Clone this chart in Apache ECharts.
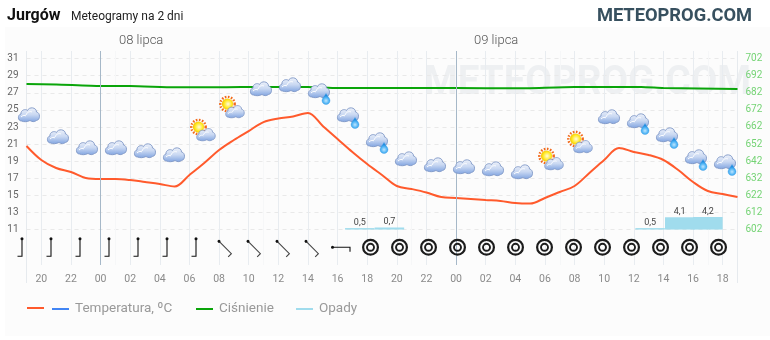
<!DOCTYPE html>
<html><head><meta charset="utf-8">
<style>html,body{margin:0;padding:0;background:#fff}#c{width:770px;height:340px}</style>
<script src="https://cdn.jsdelivr.net/npm/echarts@6/dist/echarts.min.js"></script>
</head><body><div id="c"></div>
<script>
const tickHours=[20,22,24,26,28,30,32,34,36,38,40,42,44,46,48,50,52,54,56,58,60,62,64,66];
const tempTicks=[11,13,15,17,19,21,23,25,27,29,31];
const pressTicks=[602,612,622,632,642,652,662,672,682,692,702];
const tempHours=[19,20,21,22,23,24,25,26,27,28,29,30,31,32,33,34,35,36,37,38,39,40,41,42,43,44,45,46,47,48,49,50,51,52,53,54,55,56,57,58,59,60,61,62,63,64,65,66,67];
const tempValues=[20.78,19.14,18.2,17.74,17.04,16.92,16.92,16.8,16.57,16.33,16.04,17.39,18.79,20.31,21.48,22.53,23.58,24.0,24.23,24.64,23.12,21.6,20.08,18.67,17.39,16.1,15.75,15.34,14.81,14.7,14.58,14.46,14.35,14.11,14.05,14.7,15.4,16.1,17.62,19.14,20.54,20.08,19.73,19.14,17.97,16.57,15.51,15.16,14.81];
const pressHours=[19,21,24,26,29,31.5,33.5,36,38,40,48,52,56,60.5,62,67];
const pressValues=[687.1,686.9,686,686,685.2,685.2,685.4,685.4,685.4,684.8,684.8,684.6,685.4,685.4,684.8,684.2];
const rainHours=[41.5,43.5,61.1,63.1,65];
const rainValues=[0.5,0.7,0.5,4.1,4.2];
const midnights=[24,48];
const iconSlots=[0,1,2,3,4,5,6,7,8,9,10,11,12,13,14,15,16,17,18,19,20,21,22,23,24];
const iconTemps=[24.52,21.95,20.66,20.66,20.31,19.84,22.53,25.22,27.56,28.03,27.33,24.52,21.6,19.37,18.67,18.44,18.2,17.85,19.14,21.13,24.29,23.82,22.18,19.61,19.02];
const iconKinds=['c','c','c','c','c','c','p','p','c','c','r','r','r','c','c','c','c','c','p','p','c','r','r','r','r'];
const windDirs=[0,0,0,0,0,0,0,315,315,315,315,270,null,null,null,null,null,null,null,null,null,null,null,null,null];
const windRow=[8.93];
const FONT='Roboto';

function cloud(x,y,s){
  return {type:'group',x:x,y:y,scaleX:s,scaleY:s,children:[
    {type:'path',shape:{pathData:'M-7.5,7 C-11.5,7 -11.5,0.5 -8,0 C-8.5,-4 -3.5,-5.5 -1.5,-3.5 C0,-7.5 7.5,-7 7.5,-2 C11.5,-1.5 11.5,6 7.5,6.5 C5.5,8 3,8 1,6.5 C-2,8 -5,8 -7.5,7 Z'},
     style:{fill:new echarts.graphic.LinearGradient(0,0,0,1,[{offset:0,color:'#eef2fa'},{offset:.5,color:'#c9d8f2'},{offset:1,color:'#7fa3e0'}]),stroke:'#7f97c6',lineWidth:.9}},
    {type:'path',shape:{pathData:'M-3,1 C-2,-2 1,-3 3,-2 M-8,3 C-6,1 -4,1 -3,2'},style:{fill:'none',stroke:'#ffffff',lineWidth:1}}
  ]};
}
function sun(x,y){
  return [{type:'circle',x:x,y:y,shape:{r:7.2},style:{fill:'none',stroke:'#f26a1b',lineWidth:2.4,lineDash:[1.6,1.5]}},
          {type:'circle',x:x,y:y,shape:{r:5.6},style:{fill:new echarts.graphic.RadialGradient(.55,.5,.6,[{offset:0,color:'#fffbe0'},{offset:.6,color:'#ffe81e'},{offset:1,color:'#f0b400'}])}}];
}
function drop(x,y){
  return {type:'path',x:x,y:y,shape:{pathData:'M0,-5.5 C1,-3 4,-1 4,1.5 C4,4 2,5.5 0,5.5 C-2,5.5 -4,4 -4,1.5 C-4,-1 -1,-3 0,-5.5 Z'},
    style:{fill:new echarts.graphic.RadialGradient(.5,.65,.6,[{offset:0,color:'#bfe6ff'},{offset:.6,color:'#4fb4f5'},{offset:1,color:'#1f8ce0'}]),stroke:'#3f9fe6',lineWidth:.4}};
}
function renderIcon(p,api){
  const c=api.coord([api.value(0),api.value(1)]),k=iconKinds[p.dataIndex],ch=[];
  if(k==='c') ch.push(cloud(c[0],c[1],1));
  if(k==='r'){ch.push(cloud(c[0],c[1],1));ch.push(drop(c[0]+7,c[1]+9));}
  if(k==='p'){sun(c[0]-4.5,c[1]-4).forEach(e=>ch.push(e));ch.push(cloud(c[0]+3,c[1]+3,.88));}
  return {type:'group',children:ch};
}
function renderWind(p,api){
  const c=api.coord([api.value(0),api.value(1)]),cx=c[0]-7,cy=c[1],d=windDirs[p.dataIndex];
  if(d===null){
    return {type:'group',children:[
      {type:'circle',shape:{cx:cx+.5,cy:cy,r:7.4},style:{fill:'none',stroke:'#1c1c1c',lineWidth:2.2}},
      {type:'circle',shape:{cx:cx+.5,cy:cy,r:3.5},style:{fill:'none',stroke:'#1c1c1c',lineWidth:1.9}}]};
  }
  return {type:'group',x:cx,y:cy,rotation:-d*Math.PI/180,children:[
    {type:'polyline',shape:{points:[[0,-9],[0,9],[-4.5,9]]},style:{fill:'none',stroke:d===0||d===270?'#111':'#444',lineWidth:1.1}},
    {type:'circle',shape:{cx:0,cy:-8.5,r:1.5},style:{fill:'#111'}}]};
}
const iconData=iconSlots.map((s,i)=>[s,iconTemps[i]]);
const windData=iconSlots.map(s=>[s,windRow[0]]);
const mid=midnights.map(h=>({xAxis:h}));

const chart=echarts.init(document.getElementById('c'),null,{renderer:'canvas'});
chart.setOption({
  animation:false,backgroundColor:'#fff',
  textStyle:{fontFamily:FONT},
  title:[
    {text:'Jurgów',left:7,top:8,padding:0,textStyle:{fontFamily:FONT,fontSize:16,fontWeight:'bold',color:'#111'}},
    {text:'Meteogramy na 2 dni',left:71,top:11,padding:0,textStyle:{fontFamily:FONT,fontSize:12,fontWeight:'normal',color:'#222'}},
    {text:'METEOPROG.COM',right:18,top:7,padding:0,textStyle:{fontFamily:FONT,fontSize:18.3,fontWeight:'bold',color:'#37505f'}},
    {text:'08 lipca',left:119,top:34,padding:0,textStyle:{fontFamily:FONT,fontSize:13,fontWeight:300,color:'#555'}},
    {text:'09 lipca',left:474,top:34,padding:0,textStyle:{fontFamily:FONT,fontSize:13,fontWeight:300,color:'#555'}}
  ],
  graphic:[
    {type:'rect',z:-20,shape:{x:5,y:27,width:765,height:309},style:{fill:'#fcfcfc'}},
    {type:'text',z:-10,x:424,y:63,scaleX:.94,style:{text:'METEOPROG.COM',font:'bold 41px Roboto',fill:'#eef0f2'}},
    {type:'line',z:-9,shape:{x1:26.5,y1:51,x2:26.5,y2:283},style:{stroke:'#e6eaee',lineWidth:1}},
    {type:'line',z:-9,shape:{x1:737.5,y1:51,x2:737.5,y2:283},style:{stroke:'#e6eaee',lineWidth:1}}
  ],
  grid:{left:26.5,right:32.5,top:51,bottom:75,containLabel:false},
  xAxis:[
    {type:'value',min:19,max:67,
     axisLine:{show:false},
     axisTick:{show:false,customValues:tickHours},
     axisLabel:{customValues:tickHours,margin:8.5,fontFamily:FONT,fontSize:10.5,color:'#8a8a8a',
       formatter:v=>String(v%24).padStart(2,'0')},
     splitLine:{show:true,lineStyle:{color:'#e8ecf0',width:1}},
     minorTick:{show:false,splitNumber:2},
     minorSplitLine:{show:true,lineStyle:{color:'#f6f7f8',width:1}}},
    {type:'value',show:false,min:-0.086,max:24.43,splitLine:{show:false}}
  ],
  yAxis:[
    {type:'value',position:'left',min:6.86,max:31.89,
     axisLine:{show:false},
     axisTick:{show:false,customValues:tempTicks},
     axisLabel:{customValues:tempTicks,margin:8,fontFamily:FONT,fontSize:10,color:'#666'},
     splitLine:{show:true,lineStyle:{color:'#e9e9e9',type:[4,4],width:1}}},
    {type:'value',position:'right',min:581.3,max:706.44,
     axisLine:{show:false},
     axisTick:{show:false,customValues:pressTicks},
     axisLabel:{customValues:pressTicks,margin:8,fontFamily:FONT,fontSize:10,color:'#74d374'},
     splitLine:{show:false}},
    {type:'value',show:false,min:-11.8,max:59.5,splitLine:{show:false}}
  ],
  legend:[
    {left:27,top:307,padding:0,icon:'rect',itemWidth:17,itemHeight:2,selectedMode:false,data:['Temperatura dodatnia'],formatter:()=>''},
    {left:52,top:302,padding:0,icon:'rect',itemWidth:17,itemHeight:2,selectedMode:false,data:['Temperatura, ºC'],textStyle:{fontFamily:FONT,fontSize:13.5,color:'#999',padding:[0,0,0,1]}},
    {left:196,top:302,padding:0,icon:'rect',itemWidth:17,itemHeight:2,selectedMode:false,data:['Ciśnienie'],textStyle:{fontFamily:FONT,fontSize:13.5,color:'#999',padding:[0,0,0,1]}},
    {left:296,top:302,padding:0,icon:'rect',itemWidth:17,itemHeight:2,selectedMode:false,data:['Opady'],textStyle:{fontFamily:FONT,fontSize:13.5,color:'#999',padding:[0,0,0,1]}}
  ],
  series:[
    {type:'bar',name:'Opady',xAxisIndex:0,yAxisIndex:2,barWidth:29.5,z:2,
     data:rainHours.map((h,i)=>[h,rainValues[i]]),
     itemStyle:{color:'#a0dced'},
     label:{show:true,position:'top',distance:1,fontFamily:FONT,fontSize:9,color:'#444',
       formatter:p=>String(p.value[1]).replace('.',',')}},
    {type:'line',name:'Temperatura dodatnia',xAxisIndex:0,yAxisIndex:0,z:4,
     data:tempHours.map((h,i)=>[h,tempValues[i]]),
     smooth:.35,showSymbol:false,itemStyle:{color:'#ff5a2c'},lineStyle:{color:'#ff5a2c',width:2},
     markLine:{silent:true,symbol:'none',animation:false,label:{show:false},lineStyle:{color:'#a6b8c8',width:1,type:'solid'},data:mid}},
    {type:'line',name:'Temperatura, ºC',xAxisIndex:0,yAxisIndex:0,data:[],showSymbol:false,itemStyle:{color:'#4285f4'},lineStyle:{color:'#4285f4',width:2}},
    {type:'line',name:'Ciśnienie',xAxisIndex:0,yAxisIndex:1,z:3,
     data:pressHours.map((h,i)=>[h,pressValues[i]]),
     smooth:.2,showSymbol:false,itemStyle:{color:'#0aa50a'},lineStyle:{color:'#0aa50a',width:2}},
    {type:'custom',name:'Ikony',xAxisIndex:1,yAxisIndex:0,z:6,data:iconData,renderItem:renderIcon,silent:true,clip:false},
    {type:'custom',name:'Wiatr',xAxisIndex:1,yAxisIndex:0,z:6,data:windData,renderItem:renderWind,silent:true,clip:false}
  ]
});
</script></body></html>
